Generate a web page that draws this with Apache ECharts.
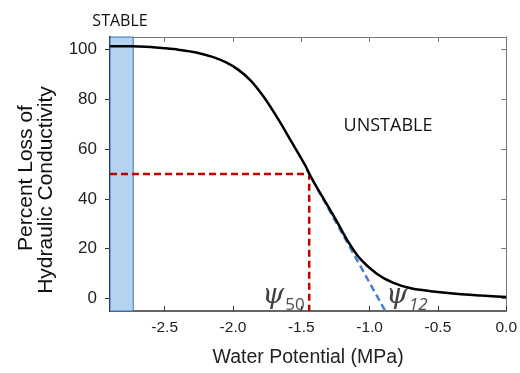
<!DOCTYPE html>
<html>
<head>
<meta charset="utf-8">
<script src="https://cdn.jsdelivr.net/npm/echarts@6/dist/echarts.min.js"></script>
<style>
  html, body { margin: 0; padding: 0; background: #fff; }
  #chart { width: 520px; height: 373px; }
</style>
</head>
<body>
<div id="chart"></div>
<script>
// vulnerability curve: [water potential MPa, PLC %]
var curvePoints = [
  [-2.9, 101.3], [-2.75, 101.3], [-2.6, 101.0], [-2.5, 100.5], [-2.4, 99.9],
  [-2.27, 98.8], [-2.15, 97.0], [-2.05, 94.8], [-1.96, 91.8], [-1.87, 87.5],
  [-1.77, 80.6], [-1.67, 72.1], [-1.57, 62.8], [-1.47, 53.4], [-1.44, 50.0],
  [-1.38, 44.0], [-1.32, 38.5], [-1.24, 31.0], [-1.17, 24.0], [-1.07, 16.0],
  [-0.95, 10.1], [-0.83, 6.4], [-0.69, 4.0], [-0.5, 2.6], [-0.35, 1.8],
  [-0.18, 1.2], [0.0, 0.6]
];
var p50Lines = [[-2.9, 50], [-1.442, 50], [-1.442, -5]];
var tangentLine = [[-1.46, 51.8], [-0.885, -5]];
var stableBand = [-2.9, -2.73];
var xTicks = [-2.5, -2.0, -1.5, -1.0, -0.5, 0.0];
var yTicks = [0, 20, 40, 60, 80, 100];
var psiLabels = [
  { value: [-1.475, -5], text: '{psi|ψ}{sub|50}', align: 'right' },
  { value: [-0.88, -5], text: '{psi|ψ}{subi|12}', align: 'left' }
];

var font = 'Liberation Sans, Arial, sans-serif';
var chart = echarts.init(document.getElementById('chart'));

var option = {
  animation: false,
  backgroundColor: '#fff',
  grid: { left: 110, right: 12, top: 37, bottom: 57 },
  xAxis: [{
    type: 'value', position: 'bottom', min: -2.9, max: 0,
    axisLine: { onZero: false, lineStyle: { color: '#333', width: 1.5 } },
    axisTick: { inside: true, length: 5, customValues: xTicks, lineStyle: { color: '#333' } },
    axisLabel: {
      customValues: xTicks, margin: 9, color: '#222', fontSize: 15.5, fontFamily: font,
      formatter: function (v) { return v.toFixed(1); }
    },
    splitLine: { show: false },
    name: 'Water Potential (MPa)', nameLocation: 'middle', nameGap: 37,
    nameTextStyle: { color: '#222', fontSize: 19.5, fontFamily: font }
  }, {
    type: 'value', position: 'top', min: -2.9, max: 0,
    axisLine: { show: true, onZero: false, lineStyle: { color: '#777', width: 1 } },
    axisTick: { inside: true, length: 5, customValues: xTicks, lineStyle: { color: '#777' } },
    axisLabel: { show: false },
    splitLine: { show: false }
  }],
  yAxis: [{
    type: 'value', position: 'left', min: -5, max: 105,
    axisLine: { show: true, onZero: false, lineStyle: { color: '#111', width: 2 } },
    axisTick: { show: true, length: 5, customValues: yTicks, lineStyle: { color: '#333' } },
    axisLabel: { customValues: yTicks, margin: 13, color: '#222', fontSize: 17, fontFamily: font },
    splitLine: { show: false }
  }, {
    type: 'value', position: 'right', min: -5, max: 105,
    axisLine: { show: true, onZero: false, lineStyle: { color: '#777', width: 1 } },
    axisTick: { show: true, inside: true, length: 5, customValues: yTicks, lineStyle: { color: '#777' } },
    axisLabel: { show: false },
    splitLine: { show: false }
  }],
  series: [{
    name: 'stable',
    type: 'line',
    data: [],
    z: 1,
    markArea: {
      silent: true,
      itemStyle: { color: '#b3d3f0', borderColor: '#3e6fb5', borderWidth: 1 },
      data: [[{ xAxis: stableBand[0], yAxis: -5 }, { xAxis: stableBand[1], yAxis: 105 }]]
    }
  }, {
    name: 'p50',
    type: 'line',
    data: p50Lines,
    symbol: 'none',
    z: 3,
    lineStyle: { color: '#c00000', width: 2.5, type: [7, 4] }
  }, {
    name: 'tangent',
    type: 'line',
    data: tangentLine,
    symbol: 'none',
    z: 4,
    lineStyle: { color: '#4a7fd0', width: 2.5, type: [7, 4] }
  }, {
    name: 'PLC',
    type: 'line',
    data: curvePoints,
    smooth: 0.3,
    symbol: 'none',
    z: 5,
    lineStyle: { color: '#000', width: 2.5 }
  }, {
    name: 'psi',
    type: 'scatter',
    symbol: 'circle',
    symbolSize: 0,
    z: 6,
    data: psiLabels.map(function (d) {
      return {
        value: d.value,
        label: {
          show: true, position: 'inside', align: d.align, verticalAlign: 'bottom',
          formatter: d.text,
          rich: {
            psi: { fontFamily: 'DejaVu Serif', fontStyle: 'italic', fontSize: 28, color: '#111', lineHeight: 30 },
            sub: { fontFamily: 'Open Sans', fontSize: 17, color: '#222', lineHeight: 30, verticalAlign: 'bottom', padding: [0, 0, -3, 1] },
            subi: { fontFamily: 'Open Sans', fontStyle: 'italic', fontSize: 17, color: '#222', lineHeight: 30, verticalAlign: 'bottom', padding: [0, 0, -3, 1] }
          }
        }
      };
    })
  }],
  graphic: [{
    type: 'text', x: 120, y: 21,
    style: { text: 'STABLE', font: '16px "Open Sans"', fill: '#111', align: 'center', verticalAlign: 'middle' }
  }, {
    type: 'text', x: 388, y: 126,
    style: { text: 'UNSTABLE', font: '18px "Open Sans"', fill: '#111', align: 'center', verticalAlign: 'middle' }
  }, {
    type: 'text', x: 26, y: 178, rotation: Math.PI / 2,
    style: { text: 'Percent Loss of', font: '21px Liberation Sans', fill: '#111', align: 'center', verticalAlign: 'middle' }
  }, {
    type: 'text', x: 46, y: 190, rotation: Math.PI / 2,
    style: { text: 'Hydraulic Conductivity', font: '21px Liberation Sans', fill: '#111', align: 'center', verticalAlign: 'middle' }
  }]
};

chart.setOption(option);
</script>
</body>
</html>
